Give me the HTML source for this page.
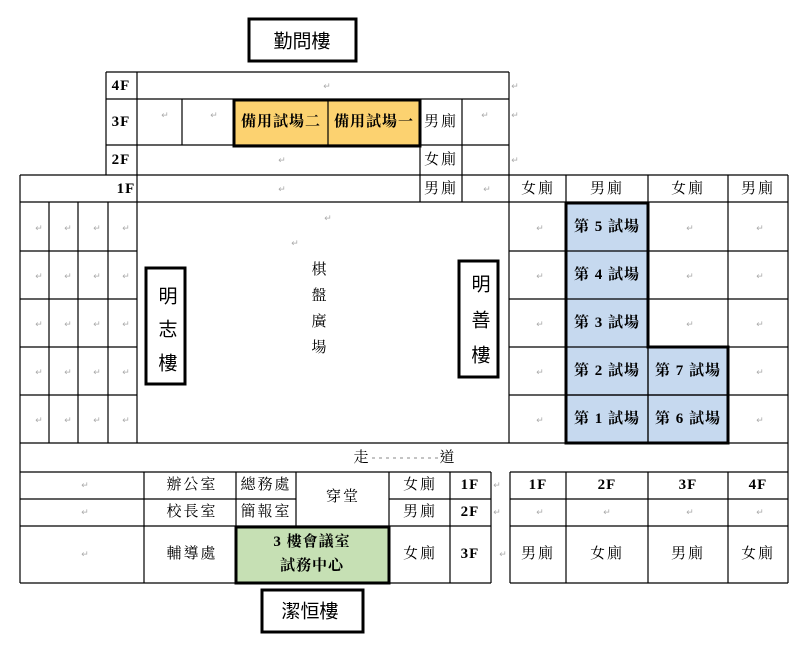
<!DOCTYPE html>
<html><head><meta charset="utf-8"><style>
html,body{margin:0;padding:0;background:#fff;width:798px;height:650px;overflow:hidden}
svg{display:block}
text{font-family:"Liberation Serif","Noto Serif CJK TC","Noto Serif CJK SC",serif;font-size:15px;fill:#000;text-anchor:middle;dominant-baseline:central;letter-spacing:2px}
.b{font-weight:bold;letter-spacing:1px}
.s{font-family:"Liberation Sans","Noto Sans CJK TC",sans-serif;font-size:19px;letter-spacing:0}
.r{fill:#aaa;font-size:9px;letter-spacing:0}
</style></head><body>
<svg width="798" height="650" viewBox="0 0 798 650" xmlns="http://www.w3.org/2000/svg">
<rect x="233" y="99" width="187" height="47" fill="#fcd270"/>
<rect x="566" y="202" width="82" height="241" fill="#c6d9ef"/>
<rect x="648" y="347" width="80" height="96" fill="#c6d9ef"/>
<rect x="236" y="526" width="153" height="57" fill="#c6e0b4"/>
<g stroke="#000" stroke-width="1.2" fill="none">
<line x1="106" y1="72" x2="509" y2="72"/>
<line x1="106" y1="99" x2="509" y2="99"/>
<line x1="106" y1="145" x2="509" y2="145"/>
<line x1="20" y1="175" x2="788" y2="175"/>
<line x1="20" y1="202" x2="788" y2="202"/>
<line x1="106" y1="72" x2="106" y2="175"/>
<line x1="137" y1="72" x2="137" y2="443"/>
<line x1="509" y1="72" x2="509" y2="443"/>
<line x1="182" y1="99" x2="182" y2="145"/>
<line x1="328" y1="99" x2="328" y2="145"/>
<line x1="420" y1="99" x2="420" y2="202"/>
<line x1="462" y1="99" x2="462" y2="202"/>
<line x1="20" y1="175" x2="20" y2="583"/>
<line x1="49" y1="202" x2="49" y2="443"/>
<line x1="78" y1="202" x2="78" y2="443"/>
<line x1="108" y1="202" x2="108" y2="443"/>
<line x1="566" y1="175" x2="566" y2="443"/>
<line x1="648" y1="175" x2="648" y2="443"/>
<line x1="728" y1="175" x2="728" y2="443"/>
<line x1="788" y1="175" x2="788" y2="472"/>
<line x1="20" y1="251" x2="137" y2="251"/><line x1="509" y1="251" x2="788" y2="251"/>
<line x1="20" y1="299" x2="137" y2="299"/><line x1="509" y1="299" x2="788" y2="299"/>
<line x1="20" y1="347" x2="137" y2="347"/><line x1="509" y1="347" x2="788" y2="347"/>
<line x1="20" y1="395" x2="137" y2="395"/><line x1="509" y1="395" x2="788" y2="395"/>
<line x1="20" y1="443" x2="788" y2="443"/>
<line x1="20" y1="472" x2="491" y2="472"/><line x1="510" y1="472" x2="788" y2="472"/>
<line x1="20" y1="499" x2="296" y2="499"/><line x1="389" y1="499" x2="491" y2="499"/><line x1="510" y1="499" x2="788" y2="499"/>
<line x1="20" y1="526" x2="491" y2="526"/><line x1="510" y1="526" x2="788" y2="526"/>
<line x1="20" y1="583" x2="491" y2="583"/><line x1="510" y1="583" x2="788" y2="583"/>
<line x1="144" y1="472" x2="144" y2="583"/>
<line x1="236" y1="472" x2="236" y2="583"/>
<line x1="296" y1="472" x2="296" y2="526"/>
<line x1="389" y1="472" x2="389" y2="583"/>
<line x1="450" y1="472" x2="450" y2="583"/>
<line x1="491" y1="472" x2="491" y2="583"/>
<line x1="510" y1="472" x2="510" y2="583"/>
<line x1="566" y1="472" x2="566" y2="583"/>
<line x1="648" y1="472" x2="648" y2="583"/>
<line x1="728" y1="472" x2="728" y2="583"/>
<line x1="788" y1="472" x2="788" y2="583"/>
</g>
<g stroke="#000" stroke-width="3" fill="none">
<rect x="234" y="100" width="186" height="46"/>
<path d="M566 203 V443 H728 V347 H648 V203 Z"/>
<line x1="648" y1="347" x2="648" y2="443" stroke-width="1.2"/>
<line x1="566" y1="395" x2="728" y2="395" stroke-width="1.2"/>
<rect x="236" y="527" width="153" height="56"/>
<rect x="249" y="19" width="107" height="42"/>
<rect x="262" y="590" width="101" height="42"/>
<rect x="146" y="268" width="39" height="116"/>
<rect x="459" y="261" width="39" height="116"/>
</g>
<text class="b" x="121" y="86">4F</text>
<text class="b" x="121" y="122">3F</text>
<text class="b" x="121" y="160">2F</text>
<text class="b" x="126" y="189">1F</text>
<text class="b" x="281" y="122">備用試場二</text>
<text class="b" x="374" y="122">備用試場一</text>
<text x="441" y="122">男廁</text>
<text x="441" y="160">女廁</text>
<text x="441" y="189">男廁</text>
<text x="538" y="189">女廁</text>
<text x="607" y="189">男廁</text>
<text x="688" y="189">女廁</text>
<text x="758" y="189">男廁</text>
<text class="b" x="607" y="227">第 5 試場</text>
<text class="b" x="607" y="275">第 4 試場</text>
<text class="b" x="607" y="323">第 3 試場</text>
<text class="b" x="607" y="371">第 2 試場</text>
<text class="b" x="607" y="419">第 1 試場</text>
<text class="b" x="688" y="371">第 7 試場</text>
<text class="b" x="688" y="419">第 6 試場</text>
<text x="320" y="270">棋</text>
<text x="320" y="296">盤</text>
<text x="320" y="322">廣</text>
<text x="320" y="348">場</text>
<text class="s" x="168" y="297">明</text>
<text class="s" x="168" y="330">志</text>
<text class="s" x="168" y="364">樓</text>
<text class="s" x="481" y="285">明</text>
<text class="s" x="481" y="321">善</text>
<text class="s" x="481" y="356">樓</text>
<text class="s" x="302" y="42">勤問樓</text>
<text class="s" x="310" y="612">潔恒樓</text>
<text x="362" y="458">走</text>
<text x="448" y="458">道</text>
<line x1="372" y1="458" x2="440" y2="458" stroke="#888" stroke-dasharray="3,4"/>
<text x="192" y="485">辦公室</text>
<text x="192" y="512">校長室</text>
<text x="192" y="554">輔導處</text>
<text x="266" y="485">總務處</text>
<text x="266" y="512">簡報室</text>
<text x="343" y="497">穿堂</text>
<text x="420" y="485">女廁</text>
<text x="420" y="512">男廁</text>
<text x="420" y="554">女廁</text>
<text class="b" x="470" y="485">1F</text>
<text class="b" x="470" y="512">2F</text>
<text class="b" x="470" y="554">3F</text>
<text class="b" x="312" y="542">3 樓會議室</text>
<text class="b" x="312" y="566">試務中心</text>
<text class="b" x="538" y="485">1F</text>
<text class="b" x="607" y="485">2F</text>
<text class="b" x="688" y="485">3F</text>
<text class="b" x="758" y="485">4F</text>
<text x="538" y="554">男廁</text>
<text x="607" y="554">女廁</text>
<text x="688" y="554">男廁</text>
<text x="758" y="554">女廁</text>
<g>
<text class="r" x="327" y="86">↵</text><text class="r" x="165" y="115">↵</text><text class="r" x="214" y="115">↵</text>
<text class="r" x="485" y="115">↵</text><text class="r" x="282" y="160">↵</text><text class="r" x="282" y="189">↵</text>
<text class="r" x="487" y="189">↵</text><text class="r" x="515" y="86">↵</text><text class="r" x="515" y="115">↵</text><text class="r" x="515" y="160">↵</text>
<text class="r" x="39" y="228">↵</text><text class="r" x="68" y="228">↵</text><text class="r" x="97" y="228">↵</text><text class="r" x="126" y="228">↵</text>
<text class="r" x="39" y="276">↵</text><text class="r" x="68" y="276">↵</text><text class="r" x="97" y="276">↵</text><text class="r" x="126" y="276">↵</text>
<text class="r" x="39" y="324">↵</text><text class="r" x="68" y="324">↵</text><text class="r" x="97" y="324">↵</text><text class="r" x="126" y="324">↵</text>
<text class="r" x="39" y="372">↵</text><text class="r" x="68" y="372">↵</text><text class="r" x="97" y="372">↵</text><text class="r" x="126" y="372">↵</text>
<text class="r" x="39" y="420">↵</text><text class="r" x="68" y="420">↵</text><text class="r" x="97" y="420">↵</text><text class="r" x="126" y="420">↵</text>
<text class="r" x="540" y="228">↵</text><text class="r" x="540" y="276">↵</text><text class="r" x="540" y="324">↵</text><text class="r" x="540" y="372">↵</text><text class="r" x="540" y="420">↵</text>
<text class="r" x="690" y="228">↵</text><text class="r" x="690" y="276">↵</text><text class="r" x="690" y="324">↵</text>
<text class="r" x="760" y="228">↵</text><text class="r" x="760" y="276">↵</text><text class="r" x="760" y="324">↵</text><text class="r" x="760" y="372">↵</text><text class="r" x="760" y="420">↵</text>
<text class="r" x="328" y="218">↵</text><text class="r" x="295" y="243">↵</text>
<text class="r" x="85" y="485">↵</text><text class="r" x="85" y="512">↵</text><text class="r" x="85" y="554">↵</text>
<text class="r" x="540" y="512">↵</text><text class="r" x="607" y="512">↵</text><text class="r" x="690" y="512">↵</text><text class="r" x="760" y="512">↵</text>
<text class="r" x="497" y="485">↵</text><text class="r" x="497" y="512">↵</text><text class="r" x="503" y="554">↵</text>
</g>
</svg>
</body></html>
